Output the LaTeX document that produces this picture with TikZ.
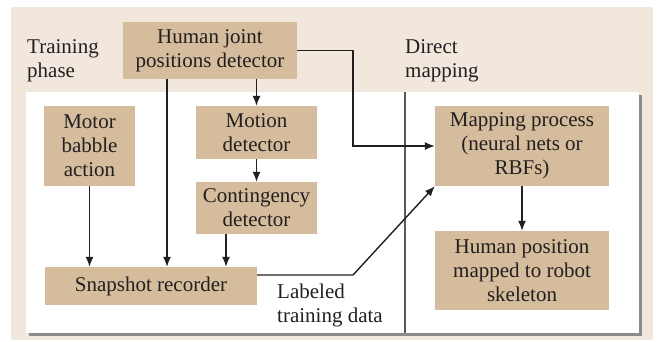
\documentclass[tikz,border=0pt]{standalone}
\usepackage{fontspec}
\setmainfont{Liberation Serif}
\usetikzlibrary{arrows.meta,positioning}
\definecolor{hrtan}{RGB}{212,188,156}
\definecolor{hrbg}{RGB}{241,231,221}
\definecolor{hrink}{RGB}{35,31,32}

\begin{document}
\begin{tikzpicture}[x=1pt,y=-1pt,font=\fontsize{21}{24}\selectfont,
  stage/.style={fill=hrtan,text=hrink,align=center,inner sep=0pt},
  lbl/.style={text=hrink,align=left,inner sep=0pt,anchor=west},
  flow/.style={draw=hrink,line width=1.4pt,-{Latex[length=10pt,width=8pt]}}]
  \useasboundingbox (0,0) rectangle (660,341);
  \fill[hrbg] (11,7) rectangle (653,340);
  \fill[black!45] (29,95) rectangle (642,336);
  \fill[white] (26,92) rectangle (639,333);
  \draw[black!65,line width=1.2pt] (405,92) -- (405,333);
  \node[lbl] (train) at (27,61) {Training\\phase};
  \node[lbl] (direct) at (405,61) {Direct\\mapping};
  \node[lbl] (labeled) at (277,305) {Labeled\\training data};
  \node[stage,minimum width=174pt,minimum height=57pt] (hjd) at (210,50.5) {Human joint\\positions detector};
  \node[stage,minimum width=91pt,minimum height=80pt] (mba) at (89.5,146) {Motor\\babble\\action};
  \node[stage,minimum width=121pt,minimum height=53pt] (mod) at (256.5,132.5) {Motion\\detector};
  \node[stage,minimum width=121pt,minimum height=52pt] (cod) at (256.5,208) {Contingency\\detector};
  \node[stage,minimum width=212pt,minimum height=38pt] (snap) at (151,286) {Snapshot recorder};
  \node[stage,minimum width=174pt,minimum height=80pt] (map) at (522,146) {Mapping process\\(neural nets or\\RBFs)};
  \node[stage,minimum width=174pt,minimum height=79pt] (hpm) at (522,270.5) {Human position\\mapped to robot\\skeleton};
  \coordinate (bend) at (353,146);
  \coordinate (kink) at (353,275);
  \coordinate (tap) at (167,0);
  \coordinate (ctap) at (226,0);
  \draw[flow] (hjd.east) -| (bend) -- (map.west);
  \draw[flow] (hjd.south -| mod.north) -- (mod.north);
  \draw[flow] (hjd.south -| tap) -- (snap.north -| tap);
  \draw[flow] (cod.south -| ctap) -- (snap.north -| ctap);
  \draw[flow] (mba.south) -- (mba.south |- snap.north);
  \draw[flow] ([yshift=11pt]snap.east) -- (kink) -- (map.south west);
  \foreach \a/\b in {mod/cod,map/hpm} \draw[flow] (\a) -- (\b);
\end{tikzpicture}
\end{document}
